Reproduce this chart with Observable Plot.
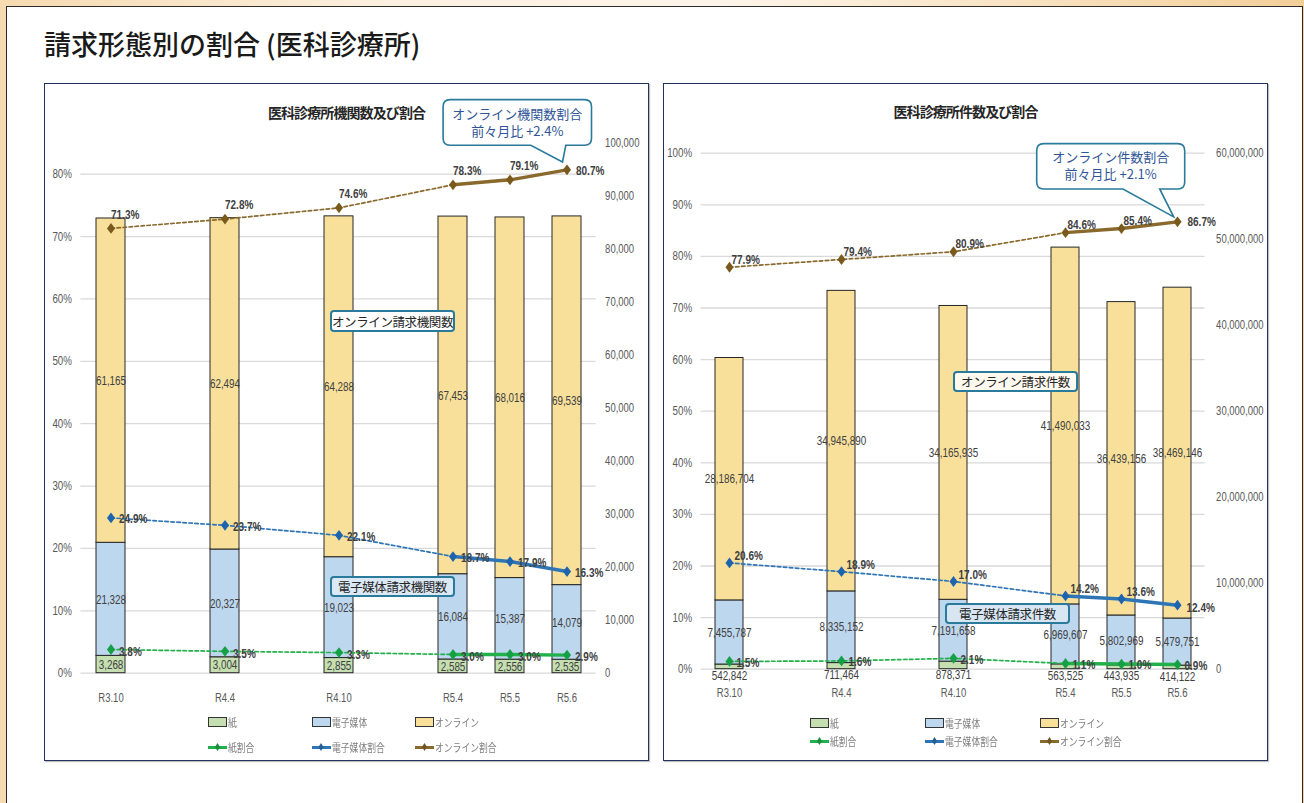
<!DOCTYPE html>
<html lang="ja">
<head>
<meta charset="utf-8">
<title>請求形態別の割合（医科診療所）</title>
<script src="https://cdn.jsdelivr.net/npm/d3@7"></script>
<script src="https://cdn.jsdelivr.net/npm/@observablehq/plot@0.6"></script>
<style>
  html, body { margin: 0; padding: 0; }
  body {
    width: 1304px; height: 803px; overflow: hidden; position: relative;
    background: linear-gradient(90deg, #f6dab0 0%, #fcf0e0 30%, #fdf5ea 55%, #f8e1bf 80%, #f3cf98 100%);
    font-family: "Noto Sans CJK JP", "Noto Sans", sans-serif;
  }
  #sheet { position: absolute; left: 6px; top: 6px; width: 1297px; height: 830px; background: #fff; border: 1px solid #2b2b2b; box-sizing: border-box; }
  #title { position: absolute; left: 44px; top: 29px; font-size: 27px; line-height: 30px; color: #1a1a1a; font-weight: 500; white-space: nowrap; }
  .chart { position: absolute; width: 605px; height: 678px; background: #fff; }
  .chart .frame { position: absolute; left: 0; top: 0; right: 0; bottom: 0; border: 1.6px solid #22325e; box-shadow: 1px 1px 1px rgba(0,0,0,.25); pointer-events: none; box-sizing: border-box; }
  .chart svg { position: absolute; left: 0; top: 0; overflow: visible; }
  .chart-title { position: absolute; left: 0; right: 0; text-align: center; font-size: 14px; font-weight: 700; color: #262626; letter-spacing: -0.9px; line-height: 18px; }
  .tag { position: absolute; box-sizing: border-box; border: 2px solid #2a7b9b; border-radius: 4px; font-size: 12.5px; color: #262626; text-align: center; white-space: nowrap; display: flex; align-items: center; justify-content: center; letter-spacing: -0.4px; }
  .legend-item { position: absolute; display: flex; align-items: center; white-space: nowrap; transform: translateY(-50%); font-size: 11px; color: #7f7f7f; }
  .legend-item b { font-weight: normal; display: inline-block; transform: scaleX(0.8); transform-origin: left center; }
  .sw-bar { width: 17px; height: 8px; border: 1.5px solid #333; margin-right: 1px; }
  .sw-line { position: relative; width: 19px; height: 3px; margin-right: 1px; }
  .sw-line i { position: absolute; left: 7px; top: -2.5px; width: 5px; height: 8px; background: inherit; clip-path: polygon(50% 0, 100% 50%, 50% 100%, 0 50%); filter: brightness(0.8); }
</style>
</head>
<body>
<div id="sheet"></div>
<div id="title">請求形態別の割合 (医科診療所)</div>

<script>
// ---- categories -----------------------------------------------------------
const periods = ["R3.10", "R4.4", "R4.10", "R5.4", "R5.5", "R5.6"];
// periods followed by a six-month step get an empty slot after them
const halfYearSteps = ["R3.10", "R4.4", "R4.10"];
// from this period on the series are monthly (drawn with a solid line)
const monthlyFrom = "R5.4";
const kinds = ["紙", "電子媒体", "オンライン"];
const shareNames = ["紙割合", "電子媒体割合", "オンライン割合"];

// ---- 医科診療所：請求機関数 ------------------------------------------------------
const instPaper  = [3268, 3004, 2855, 2585, 2556, 2535];
const instMedia  = [21328, 20327, 19023, 16084, 15387, 14079];
const instOnline = [61165, 62494, 64288, 67453, 68016, 69539];
const instPaperShare  = [3.8, 3.5, 3.3, 3.0, 3.0, 2.9];
const instMediaShare  = [24.9, 23.7, 22.1, 18.7, 17.9, 16.3];
const instOnlineShare = [71.3, 72.8, 74.6, 78.3, 79.1, 80.7];

// ---- 医科診療所：請求件数 --------------------------------------------------------
const casePaper  = [542842, 711464, 878371, 563525, 443935, 414122];
const caseMedia  = [7455787, 8335152, 7191658, 6969607, 5802969, 5479751];
const caseOnline = [28186704, 34945890, 34165935, 41490033, 36439156, 38469146];
const casePaperShare  = [1.5, 1.6, 2.1, 1.1, 1.0, 0.9];
const caseMediaShare  = [20.6, 18.9, 17.0, 14.2, 13.6, 12.4];
const caseOnlineShare = [77.9, 79.4, 80.9, 84.6, 85.4, 86.7];

// ---- axis ticks ---------------------------------------------------------------
const instPctTicks   = [0, 10, 20, 30, 40, 50, 60, 70, 80];
const instCountTicks = [0, 10000, 20000, 30000, 40000, 50000, 60000, 70000, 80000, 90000, 100000];
const casePctTicks   = [0, 10, 20, 30, 40, 50, 60, 70, 80, 90, 100];
const caseCountTicks = [0, 10000000, 20000000, 30000000, 40000000, 50000000, 60000000];

// ---- styling -------------------------------------------------------------------
const sans = '"Liberation Sans", Arimo, Arial, sans-serif';
const cjk = '"Noto Sans CJK JP", "Noto Sans", sans-serif';
const kindFill = ["#c5dfb1", "#bdd7ee", "#f8e09b"];
const shareLine = ["#22b04b", "#2e75b6", "#8a6a2c"];
const shareMark = ["#16a046", "#1c64ae", "#7a5a1c"];
const fmt = d3.format(",");

// Excel-style diamond marker, slightly taller than wide
const diamond = {
  draw(context, size) {
    const r = Math.sqrt(size / Math.PI), h = r * 1.2, w = r * 0.9;
    context.moveTo(0, -h); context.lineTo(w, 0); context.lineTo(0, h); context.lineTo(-w, 0); context.closePath();
  }
};

const slotDomain = periods.flatMap(p => halfYearSteps.includes(p) ? [p, p + "|gap"] : [p]);
const xBand = {type: "band", domain: slotDomain, paddingInner: 0.5, paddingOuter: 0.25};

// narrow the numeric labels (the charts use a condensed face)
function condense(svg, factor) {
  svg.querySelectorAll("text").forEach(t => {
    if (t.hasAttribute("data-wide")) return;
    const len = t.getComputedTextLength();
    if (len > 0) {
      t.setAttribute("textLength", (len * factor).toFixed(2));
      t.setAttribute("lengthAdjust", "spacingAndGlyphs");
    }
  });
}

// rounded callout box with a pointer ending near a data point
function calloutMark(c) {
  return (index, scales) => {
    const bw = scales.x.bandwidth ? scales.x.bandwidth() : 0;
    const px = scales.x(c.period) + bw / 2, py = scales.y(c.value);
    const tx = px + c.tip[0], ty = py + c.tip[1];
    const L = tx + c.box[0], R = tx + c.box[1], T = ty + c.box[2], B = ty + c.box[3];
    const b1 = tx + c.base[0], b2 = tx + c.base[1], r = 7;
    const g = d3.create("svg:g");
    g.append("path")
      .attr("d", `M${L + r},${T}H${R - r}Q${R},${T} ${R},${T + r}V${B - r}Q${R},${B} ${R - r},${B}H${b2}L${tx},${ty}L${b1},${B}H${L + r}Q${L},${B} ${L},${B - r}V${T + r}Q${L},${T} ${L + r},${T}Z`)
      .attr("fill", "#fff").attr("stroke", "#2a7b9b").attr("stroke-width", 1.6);
    const cx = (L + R) / 2, cy = (T + B) / 2;
    c.lines.forEach((s, i) => {
      g.append("text").attr("data-wide", "").attr("x", cx).attr("y", cy + (i === 0 ? -8.5 : 8.5)).attr("dy", "0.35em")
        .attr("text-anchor", "middle").attr("fill", "#2f5597")
        .attr("font-family", cjk).attr("font-size", 13).text(s);
    });
    return g.node();
  };
}

function buildChart(cfg) {
  const box = document.createElement("div");
  box.className = "chart";
  box.style.left = cfg.left + "px";
  box.style.top = cfg.top + "px";
  document.body.appendChild(box);

  const t = document.createElement("div");
  t.className = "chart-title";
  t.style.top = cfg.titleY + "px";
  t.textContent = cfg.title;
  box.appendChild(t);

  const W = 605, H = 630;
  const frame = {
    width: W, height: H,
    marginTop: cfg.margin[0], marginRight: cfg.margin[1], marginBottom: cfg.margin[2], marginLeft: cfg.margin[3],
    style: {background: "transparent", fontFamily: sans, fontSize: "12.5px", color: "#595959", overflow: "visible"}
  };
  const add = (svg, factor) => { box.appendChild(svg); condense(svg, factor); };

  // gridlines and the share (%) axis
  add(Plot.plot({
    ...frame,
    x: {...xBand, axis: null},
    y: {domain: [0, cfg.pctMax]},
    marks: [
      Plot.gridY(cfg.pctTicks, {stroke: "#d9d9d9", strokeOpacity: 1, strokeWidth: 1.3}),
      Plot.axisY(cfg.pctTicks, {anchor: "left", label: null, tickSize: 0, tickPadding: 9, tickFormat: d => d + "%"})
    ]
  }), 0.78);

  // stacked bars: counts per request form
  const rows = [];
  periods.forEach((p, i) => {
    let base = 0;
    cfg.counts.forEach((arr, k) => {
      rows.push({period: p, kind: kinds[k], value: arr[i], mid: base + arr[i] / 2});
      base += arr[i];
    });
  });
  add(Plot.plot({
    ...frame,
    x: xBand,
    y: {domain: [0, cfg.countMax]},
    color: {domain: kinds, range: kindFill},
    marks: [
      Plot.barY(rows, {x: "period", y: "value", fill: "kind", stroke: "#262626", strokeWidth: 1}),
      Plot.text(rows.filter(d => d.kind !== kinds[0]), {x: "period", y: "mid", text: d => fmt(d.value), fill: "#404040", fontSize: 13}),
      Plot.text(rows.filter(d => d.kind === kinds[0]), {x: "period", y: "mid", text: d => fmt(d.value), fill: "#404040", fontSize: 13, dy: cfg.paperLabelDy}),
      Plot.axisY(cfg.countTicks, {anchor: "right", label: null, tickSize: 0, tickPadding: cfg.rightPad, tickFormat: fmt}),
      Plot.axisX(periods, {anchor: "bottom", label: null, tickSize: 0, tickPadding: cfg.xPad})
    ]
  }), 0.76);

  // share lines: dashed for the half-yearly part, solid for the monthly part
  const cut = periods.indexOf(monthlyFrom);
  const lineMarks = [], dotMarks = [], labelMarks = [];
  cfg.shares.forEach((arr, k) => {
    const pts = periods.map((p, i) => ({period: p, share: arr[i]}));
    const lab = cfg.labels[k];
    lineMarks.push(
      Plot.line(pts.slice(0, cut + 1), {x: "period", y: "share", stroke: shareLine[k], strokeWidth: 1.7, strokeDasharray: "3.5,2.5"}),
      Plot.line(pts.slice(cut), {x: "period", y: "share", stroke: shareLine[k], strokeWidth: 3.4})
    );
    dotMarks.push(Plot.dot(pts, {x: "period", y: "share", symbol: diamond, r: 4.5, fill: shareMark[k], stroke: null}));
    const txt = {x: "period", y: "share", text: d => d.share.toFixed(1) + "%", textAnchor: "start", fill: "#404040", fontWeight: "bold", fontSize: 13.5};
    labelMarks.push(
      Plot.text(pts.slice(0, -1), {...txt, dx: lab.dx, dy: lab.dy}),
      Plot.text(pts.slice(-1), {...txt, dx: lab.lastDx, dy: lab.lastDy})
    );
  });
  const online = cfg.shares[2];
  const n = online.length;
  add(Plot.plot({
    ...frame,
    x: {...xBand, axis: null},
    y: {domain: [0, cfg.pctMax], axis: null},
    marks: [
      ...lineMarks, ...dotMarks, ...labelMarks,
      calloutMark({
        ...cfg.callout,
        period: periods[n - 1],
        value: online[n - 1],
        lines: [cfg.callout.heading, "前々月比 +" + (online[n - 1] - online[n - 3]).toFixed(1) + "%"]
      })
    ]
  }), 0.74);

  // series tags inside the plot
  cfg.tags.forEach(tg => {
    const d = document.createElement("div");
    d.className = "tag";
    Object.assign(d.style, {left: tg.x + "px", top: tg.y + "px", width: tg.w + "px", height: tg.h + "px", background: tg.fill});
    d.textContent = tg.text;
    box.appendChild(d);
  });

  // legend: bars on the first row, share lines on the second
  kinds.forEach((name, k) => {
    const a = document.createElement("div");
    a.className = "legend-item";
    a.style.left = (cfg.legend.x0 + k * cfg.legend.step) + "px";
    a.style.top = cfg.legend.y1 + "px";
    a.innerHTML = `<span class="sw-bar" style="background:${kindFill[k]}"></span><b>${name}</b>`;
    box.appendChild(a);
    const b = document.createElement("div");
    b.className = "legend-item";
    b.style.left = (cfg.legend.x0 + k * cfg.legend.step) + "px";
    b.style.top = cfg.legend.y2 + "px";
    b.innerHTML = `<span class="sw-line" style="background:${shareLine[k]}"><i></i></span><b>${shareNames[k]}</b>`;
    box.appendChild(b);
  });

  const fr = document.createElement("div");
  fr.className = "frame";
  box.appendChild(fr);
}

buildChart({
  left: 44, top: 83,
  title: "医科診療所機関数及び割合", titleY: 20,
  counts: [instPaper, instMedia, instOnline],
  shares: [instPaperShare, instMediaShare, instOnlineShare],
  pctMax: 85, pctTicks: instPctTicks,
  countMax: 100000, countTicks: instCountTicks,
  margin: [59.5, 53.4, 40.3, 36.4],
  rightPad: 9, xPad: 20, paperLabelDy: 0,
  labels: [
    {dx: 8, dy: 2, lastDx: 8, lastDy: 2},
    {dx: 8, dy: 1, lastDx: 8, lastDy: 1},
    {dx: 0, dy: -14, lastDx: 9, lastDy: 1}
  ],
  callout: {heading: "オンライン機関数割合", tip: [-4, -7.3], box: [-119.4, 29, -62.4, -16.7], base: [-31.7, 3.3]},
  tags: [
    {text: "オンライン請求機関数", x: 286, y: 227, w: 125, h: 22, fill: "#ffffff"},
    {text: "電子媒体請求機関数", x: 286, y: 493, w: 125, h: 21, fill: "#dbe8f5"}
  ],
  legend: {x0: 164, step: 103.5, y1: 639, y2: 664}
});

buildChart({
  left: 663, top: 83,
  title: "医科診療所件数及び割合", titleY: 19,
  counts: [casePaper, caseMedia, caseOnline],
  shares: [casePaperShare, caseMediaShare, caseOnlineShare],
  pctMax: 100, pctTicks: casePctTicks,
  countMax: 60000000, countTicks: caseCountTicks,
  margin: [69.7, 63.4, 44.3, 37.6],
  rightPad: 11, xPad: 19, paperLabelDy: 9,
  labels: [
    {dx: 7, dy: 1, lastDx: 7, lastDy: 1},
    {dx: 5, dy: -7, lastDx: 9, lastDy: 2},
    {dx: 2, dy: -8, lastDx: 10, lastDy: 0}
  ],
  callout: {heading: "オンライン件数割合", tip: [-3.3, -4.4], box: [-137, 11, -73.3, -28], base: [-50.7, -14]},
  tags: [
    {text: "オンライン請求件数", x: 290, y: 288, w: 125, h: 21, fill: "#fffaf0"},
    {text: "電子媒体請求件数", x: 282, y: 520, w: 125, h: 21, fill: "#d8e6f4"}
  ],
  legend: {x0: 147, step: 115, y1: 640, y2: 658}
});
</script>
</body>
</html>
